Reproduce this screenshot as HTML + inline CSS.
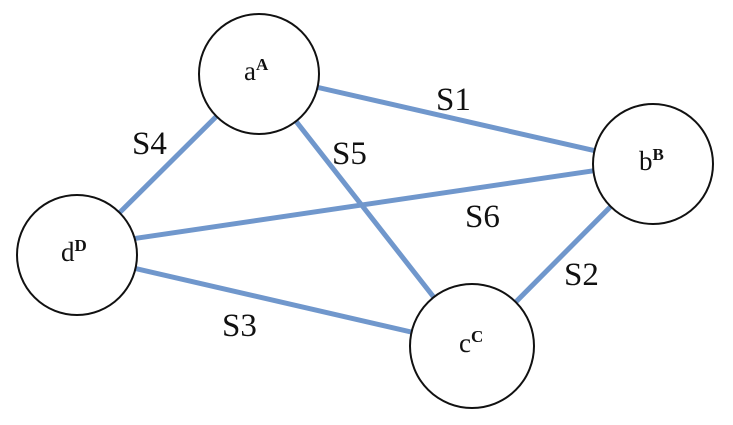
<!DOCTYPE html>
<html><head><style>body{margin:0;background:#fff}svg{display:block}</style></head><body>
<svg width="733" height="425" xmlns="http://www.w3.org/2000/svg" font-family="Liberation Serif, serif">
<g stroke="#7097cc" stroke-width="5" fill="none">
<line x1="259" y1="74" x2="653" y2="164"/>
<line x1="259" y1="74" x2="77" y2="255"/>
<line x1="259" y1="74" x2="472" y2="346"/>
<line x1="77" y1="247" x2="653" y2="162"/>
<line x1="77" y1="255" x2="472" y2="346"/>
<line x1="472" y1="346" x2="653" y2="164"/>
</g>
<g fill="#fff" stroke="#111" stroke-width="2">
<circle cx="259" cy="74" r="60"/>
<circle cx="653" cy="164" r="60"/>
<circle cx="77" cy="255" r="60"/>
<circle cx="472" cy="346" r="62"/>
</g>
<g fill="#111" font-size="27">
<text x="244" y="80">a<tspan font-size="17" font-weight="bold" dy="-10">A</tspan></text>
<text x="639" y="170">b<tspan font-size="17" font-weight="bold" dy="-10">B</tspan></text>
<text x="61" y="261">d<tspan font-size="17" font-weight="bold" dy="-10">D</tspan></text>
<text x="459" y="352">c<tspan font-size="17" font-weight="bold" dy="-10">C</tspan></text>
</g>
<g fill="#111" font-size="33">
<text x="436" y="110">S1</text>
<text x="132" y="154">S4</text>
<text x="332" y="164">S5</text>
<text x="465" y="227">S6</text>
<text x="564" y="285">S2</text>
<text x="222" y="336">S3</text>
</g>
</svg>
</body></html>
